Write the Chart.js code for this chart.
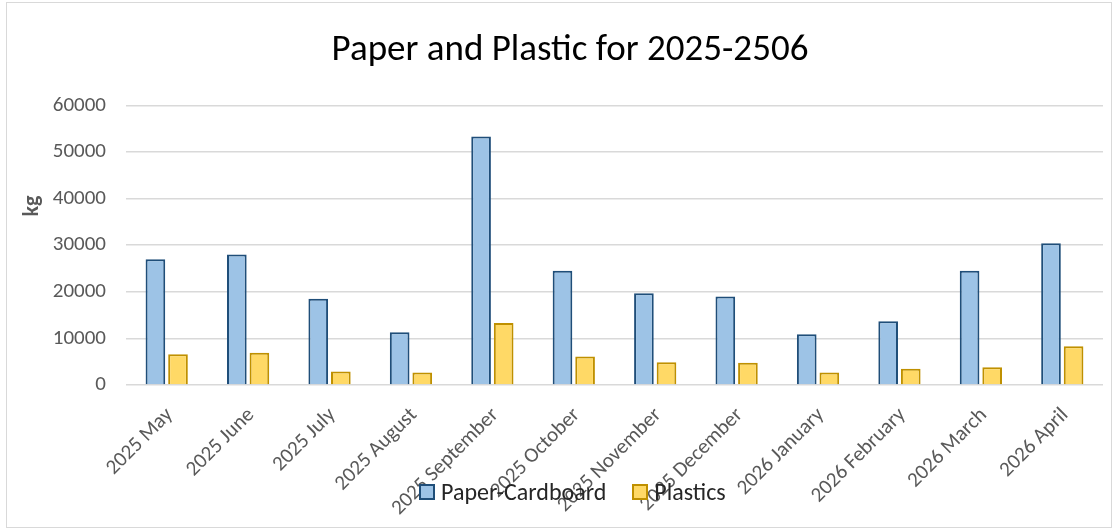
<!DOCTYPE html>
<html>
<head>
<meta charset="utf-8">
<script src="https://cdn.jsdelivr.net/npm/chart.js@4.4.1/dist/chart.umd.min.js"></script>
<style>
  body { margin: 0; background: #fff; }
  .wrap { position: relative; width: 1118px; height: 530px; }
  .frame { position: absolute; left: 6px; top: 2px; width: 1104px; height: 524px; border: 1px solid #d9d9d9; pointer-events: none; }
  .legend { position: absolute; top: 477px; left: 419px; font-family: Carlito, Calibri, Lato, sans-serif; font-size: 24px; color: #262626; display: flex; align-items: center; }
  .legend span.box { display: inline-block; width: 12px; height: 12px; margin-right: 6px; }
  .legend .item { display: flex; align-items: center; margin-right: 26px; }
  .ytitle { position: absolute; left: 30px; top: 206px; transform: translate(-50%, -50%) rotate(-90deg); font-family: Carlito, Calibri, Lato, sans-serif; font-size: 22px; font-weight: bold; color: #595959; white-space: nowrap; }
</style>
</head>
<body>
<div class="wrap">
  <canvas id="chart" width="1118" height="530"></canvas>
  <div class="frame"></div>
  <div class="ytitle">kg</div>
  <div class="legend">
    <div class="item"><span class="box" style="background:#9dc3e6;border:2px solid #1f4e79"></span>Paper-Cardboard</div>
    <div class="item"><span class="box" style="background:#ffd966;border:2px solid #bf9000"></span>Plastics</div>
  </div>
</div>
<script>
// data
const months = ['2025 May', '2025 June', '2025 July', '2025 August', '2025 September', '2025 October',
  '2025 November', '2025 December', '2026 January', '2026 February', '2026 March', '2026 April'];
const paper = [27000, 28000, 18500, 11300, 53300, 24500, 19700, 19000, 10900, 13700, 24500, 30400];
const plastics = [6600, 6900, 2900, 2700, 13300, 6100, 4900, 4800, 2700, 3500, 3800, 8300];
const yTicks = [0, 10000, 20000, 30000, 40000, 50000, 60000];

const font = "Carlito, Calibri, Lato, sans-serif";

const ctx = document.getElementById('chart').getContext('2d');
let chart = new Chart(ctx, {
    type: 'bar',
    data: {
        labels: months,
        datasets: [
            {
                label: 'Paper-Cardboard',
                data: paper,
                backgroundColor: '#9dc3e6',
                borderColor: '#1f4e79',
                borderWidth: 2,
                borderSkipped: 'bottom'
            },
            {
                label: 'Plastics',
                data: plastics,
                backgroundColor: '#ffd966',
                borderColor: '#bf9000',
                borderWidth: 2,
                borderSkipped: 'bottom'
            }
        ]
    },
    options: {
        responsive: false,
        animation: false,
        categoryPercentage: 0.555,
        barPercentage: 0.87,
        layout: { padding: { left: 22, right: 0, top: 0, bottom: 0 } },
        plugins: {
            legend: { display: false },
            tooltip: { enabled: false },
            title: {
                display: true,
                text: 'Paper and Plastic for 2025-2506',
                color: '#000',
                font: { family: font, size: 37, weight: 'normal' },
                padding: { top: 29, bottom: 32 }
            }
        },
        scales: {
            x: {
                grid: { display: false },
                border: { display: false },
                ticks: {
                    color: '#595959',
                    font: { family: font, size: 21 },
                    maxRotation: 45,
                    minRotation: 45,
                    padding: 10,
                    labelOffset: 3,
                    autoSkip: false
                },
                afterFit: function (scale) { scale.height = 145; }
            },
            y: {
                min: 0,
                max: 60000,
                afterBuildTicks: function (scale) {
                    scale.ticks = yTicks.map(v => ({ value: v }));
                },
                grid: { color: '#d9d9d9', lineWidth: 1.5, drawTicks: false },
                border: { display: false },
                ticks: {
                    color: '#595959',
                    font: { family: font, size: 21 },
                    padding: 20,
                    callback: function (value) { return String(value); }
                },
                afterFit: function (scale) { scale.width = 104; }
            },
            // empty right margin so the title centres like the original
            spacer: {
                type: 'linear',
                position: 'right',
                grid: { display: false },
                border: { display: false },
                ticks: { display: false },
                afterFit: function (scale) { scale.width = 15; }
            }
        }
    }
});
</script>
</body>
</html>
